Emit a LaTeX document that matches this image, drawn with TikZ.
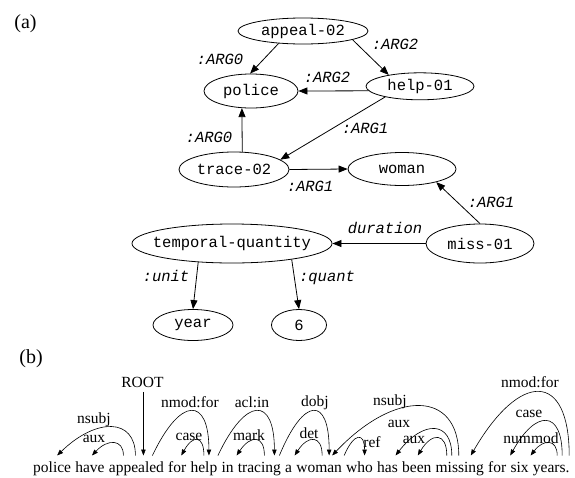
\documentclass[tikz,border=0pt]{standalone}
\usepackage{fontspec}
\setmainfont{Liberation Serif}
\newfontfamily\monofam{Liberation Mono}
\usetikzlibrary{shapes.geometric,arrows.meta,calc}
\begin{document}
\begin{tikzpicture}[x=1pt,y=-1pt,
  amr/.style={draw, ellipse, line width=0.8pt, inner sep=0pt, font=\monofam\fontsize{15.5}{18}\selectfont},
  rel/.style={anchor=base, inner sep=0pt, font=\monofam\itshape\fontsize{15.5}{18}\selectfont},
  amredge/.style={line width=0.8pt, -{Triangle[length=9pt,width=7pt]}},
  word/.style={inner sep=0pt, anchor=base west, font=\fontsize{15.5}{18}\selectfont},
  deplab/.style={anchor=base, inner sep=0pt, font=\fontsize{15.5}{18}\selectfont},
  dep/.style={line width=0.6pt, -{Triangle[length=6pt,width=4.5pt]}},
  panel/.style={anchor=base, inner sep=0pt, font=\fontsize{20}{22}\selectfont}]
\useasboundingbox (0,0) rectangle (575,477);

% ---------- (a) ----------
\node[panel] (pa) at (25.5,28.7) {(a)};

\node[amr, minimum width=130pt, minimum height=26pt] (appeal) at (303,31) {\makebox[0pt]{appeal-02}};
\node[amr, minimum width=94pt, minimum height=34pt] (police) at (251,91) {\makebox[0pt]{police}};
\node[amr, minimum width=108pt, minimum height=27pt] (help) at (420,86.3) {\makebox[0pt]{help-01}};
\node[amr, minimum width=110pt, minimum height=35pt] (trace) at (234,169.5) {\makebox[0pt]{trace-02}};
\node[amr, minimum width=108pt, minimum height=33pt] (woman) at (402,169) {\makebox[0pt]{woman}};
\node[amr, minimum width=108pt, minimum height=39pt] (miss) at (480,243.5) {\makebox[0pt]{miss-01}};
\node[amr, minimum width=200pt, minimum height=39pt] (temporal) at (232,243.5) {\makebox[0pt]{temporal-quantity}};
\node[amr, minimum width=80pt, minimum height=31pt] (year) at (193,325) {\makebox[0pt]{year}};
\node[amr, minimum width=55pt, minimum height=31pt] (six) at (299,325) {\makebox[0pt]{6}};

\draw[amredge] (appeal.207) -- (police.93);
\draw[amredge] (appeal.350) -- (help.160);
\draw[amredge] (help.185) -- (police.east);
\draw[amredge] (help.197) -- (trace.12);
\draw[amredge] (trace.65) -- (police.242);
\draw[amredge] (trace.east) -- (woman.west);
\draw[amredge] (miss.north) -- (woman.339);
\draw[amredge] (miss.west) -- (temporal.east);
\draw[amredge] (temporal.209) -- (year.north);
\draw[amredge] (temporal.345) -- (six.north);

\node[rel] (r1) at (220,64) {:ARG0};
\node[rel] (r2) at (395,49) {:ARG2};
\node[rel] (r3) at (327,82) {:ARG2};
\node[rel] (r4) at (365,133) {:ARG1};
\node[rel] (r5) at (209,142) {:ARG0};
\node[rel] (r6) at (310,191) {:ARG1};
\node[rel] (r7) at (491,207) {:ARG1};
\node[rel] (r8) at (385,233) {duration};
\node[rel] (r9) at (166,281) {:unit};
\node[rel] (r10) at (327,281) {:quant};

% ---------- (b) ----------
\node[panel] (pb) at (31,363.7) {(b)};

\node[word] (w1) at (33,472.5) {police};
\node[word] (w2) at ([xshift=3.875pt]w1.base east) {have};
\node[word] (w3) at ([xshift=3.875pt]w2.base east) {appealed};
\node[word] (w4) at ([xshift=3.875pt]w3.base east) {for};
\node[word] (w5) at ([xshift=3.875pt]w4.base east) {help};
\node[word] (w6) at ([xshift=3.875pt]w5.base east) {in};
\node[word] (w7) at ([xshift=3.875pt]w6.base east) {tracing};
\node[word] (w8) at ([xshift=3.875pt]w7.base east) {a};
\node[word] (w9) at ([xshift=3.875pt]w8.base east) {woman};
\node[word] (w10) at ([xshift=3.875pt]w9.base east) {who};
\node[word] (w11) at ([xshift=3.875pt]w10.base east) {has};
\node[word] (w12) at ([xshift=3.875pt]w11.base east) {been};
\node[word] (w13) at ([xshift=3.875pt]w12.base east) {missing};
\node[word] (w14) at ([xshift=3.875pt]w13.base east) {for};
\node[word] (w15) at ([xshift=3.875pt]w14.base east) {six};
\node[word] (w16) at ([xshift=3.875pt]w15.base east) {years.};

% ROOT
\node[deplab] (root) at (142.5,387.5) {ROOT};
\coordinate (rootend) at ($(w3.base)+(7,-17)$);
\draw[dep, line width=0.5pt] ([yshift=-4pt]root.south -| rootend) -- (rootend);

% arcs
\draw[dep] ($(w3.base)+(-1,-17)$) .. controls +(0,-38) and +(39,-38) .. ($(w1.base)+(5,-17)$);
\draw[dep] ($(w3.base)+(-13,-17)$) .. controls +(0,-16.7) and +(15.5,-16.7) .. ($(w2.base)+(2,-17)$);
\draw[dep] ($(w3.base)+(16,-17)$) .. controls +(28,-59.3) and +(0,-59.3) .. ($(w5.base)+(5,-17)$);
\draw[dep] ($(w5.base)+(0,-17)$) .. controls +(0,-20.7) and +(11.5,-20.7) .. ($(w4.base)+(4,-17)$);
\draw[dep] ($(w5.base)+(14,-17)$) .. controls +(28,-59.3) and +(0,-59.3) .. ($(w7.base)+(15,-17)$);
\draw[dep] ($(w7.base)+(5,-17)$) .. controls +(0,-20.7) and +(14,-20.7) .. ($(w6.base)+(9,-17)$);
\draw[dep] ($(w7.base)+(20,-17)$) .. controls +(24.5,-59.3) and +(0,-59.3) .. ($(w9.base)+(10,-17)$);
\draw[dep] ($(w9.base)+(3,-17)$) .. controls +(0,-20.7) and +(13.5,-20.7) .. ($(w8.base)+(6,-17)$);
\draw[dep] ($(w13.base)+(-1,-17)$) .. controls +(0,-66) and +(62.5,-66) .. ($(w9.base)+(13,-17)$);
\draw[dep] ($(w9.base)+(25,-17)$) .. controls +(10,-23.3) and +(0,-23.3) .. ($(w10.base)+(5,-17)$);
\draw[dep] ($(w13.base)+(-8,-17)$) .. controls +(0,-35.3) and +(27.5,-35.3) .. ($(w11.base)+(8,-17)$);
\draw[dep] ($(w13.base)+(-13,-17)$) .. controls +(0,-23.3) and +(14,-23.3) .. ($(w12.base)+(1,-17)$);
\draw[dep] ($(w16.base)+(18,-17)$) .. controls +(0,-84.7) and +(49,-84.7) .. ($(w13.base)+(11,-17)$);
\draw[dep] ($(w16.base)+(11,-17)$) .. controls +(0,-46) and +(25.5,-46) .. ($(w14.base)+(13,-17)$);
\draw[dep] ($(w16.base)+(6,-17)$) .. controls +(0,-16.7) and +(13,-16.7) .. ($(w15.base)+(11,-17)$);

% arc labels
\node[deplab] (d1) at (94,423) {nsubj};
\node[deplab] (d2) at (94,442) {aux};
\node[deplab] (d3) at (190,407) {nmod:for};
\node[deplab] (d4) at (189,440) {case};
\node[deplab] (d5) at (252,407) {acl:in};
\node[deplab] (d6) at (249,440) {mark};
\node[deplab] (d7) at (315,406) {dobj};
\node[deplab] (d8) at (309,438) {det};
\node[deplab] (d9) at (390,405) {nsubj};
\node[deplab] (d10) at (372,447) {ref};
\node[deplab] (d11) at (399,427) {aux};
\node[deplab] (d12) at (414,443) {aux};
\node[deplab] (d13) at (530,387) {nmod:for};
\node[deplab] (d14) at (529,417) {case};
\node[deplab] (d15) at (531,443) {nummod};
\end{tikzpicture}
\end{document}
